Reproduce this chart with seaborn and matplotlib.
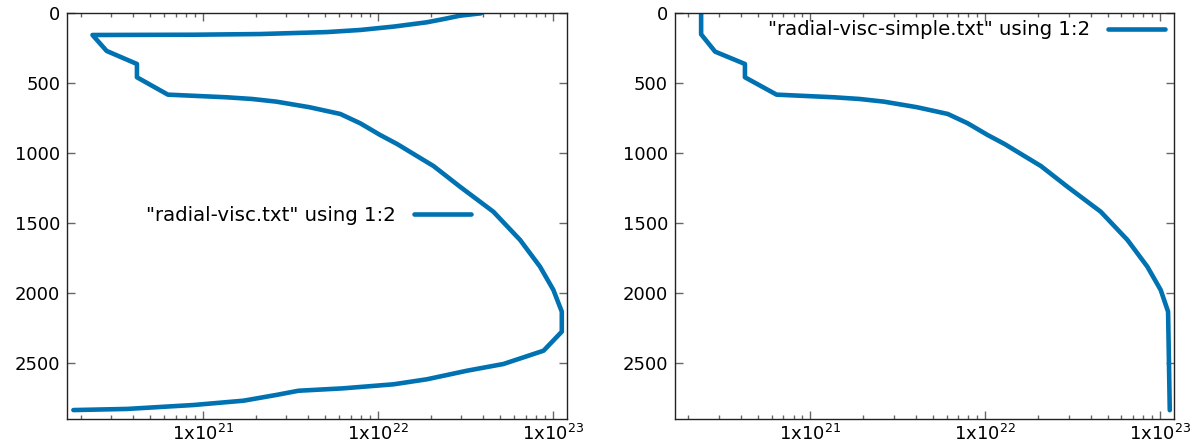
import matplotlib
matplotlib.use("Agg")
import matplotlib.pyplot as plt
import matplotlib.ticker as mticker
import seaborn as sns
import numpy as np

# full radial viscosity profile (depth in km, viscosity in Pa s)
full_depth = [0, 17, 40, 64, 95, 119, 134, 148, 153, 155,
              269, 362, 457, 581, 600, 612, 631, 671, 719, 786,
              869, 934, 1019, 1091, 1239, 1417, 1619, 1810, 1976, 2131,
              2274, 2410, 2505, 2553, 2614, 2650, 2679, 2696, 2726, 2767,
              2798, 2826, 2834]
full_visc = [3.89e22, 2.95e22, 2.4e22, 1.91e22, 1.23e22, 7.94e21, 5.13e21, 2.14e21, 8.91e20, 2.34e20,
             2.82e20, 4.2e20, 4.2e20, 6.31e20, 1.37e21, 1.91e21, 2.63e21, 4.07e21, 6.1e21, 7.94e21,
             1.03e22, 1.29e22, 1.67e22, 2.08e22, 2.95e22, 4.57e22, 6.5e22, 8.45e22, 1.007e23, 1.125e23,
             1.125e23, 8.85e22, 5.22e22, 3.23e22, 1.91e22, 1.23e22, 6.31e21, 3.52e21, 2.63e21, 1.71e21,
             8.83e20, 3.68e20, 1.82e20]

# simplified profile
simple_depth = [0, 150, 274, 362, 457, 581, 600, 612, 631, 671,
                719, 786, 869, 934, 1019, 1091, 1239, 1417, 1619, 1810,
                1976, 2131, 2835]
simple_visc = [2.37e20, 2.37e20, 2.85e20, 4.22e20, 4.22e20, 6.4e20, 1.37e21, 1.91e21, 2.63e21, 4.07e21,
               6.1e21, 7.94e21, 1.03e22, 1.29e22, 1.67e22, 2.08e22, 2.95e22, 4.57e22, 6.5e22, 8.45e22,
               1.007e23, 1.11e23, 1.135e23]

labels = ['"radial-visc.txt" using 1:2', '"radial-visc-simple.txt" using 1:2']
xticks = [1e21, 1e22, 1e23]
xtick_labels = [r"1x10$^{21}$", r"1x10$^{22}$", r"1x10$^{23}$"]
yticks = [0, 500, 1000, 1500, 2000, 2500]

sns.set_theme(style="ticks")
plt.rcParams['font.family'] = ['DejaVu Sans']
plt.rcParams['text.color'] = 'black'

color = "#0072b2"
fig = plt.figure(figsize=(12.02, 4.44), dpi=100)
ax1 = fig.add_axes([67.3 / 1202, 1 - 419.3 / 444, 499.4 / 1202, 406 / 444])
ax2 = fig.add_axes([675 / 1202, 1 - 419.3 / 444, 499 / 1202, 406 / 444])

sns.lineplot(x=full_visc, y=full_depth, sort=False, estimator=None, ax=ax1,
             color=color, linewidth=3.3, label=labels[0])
sns.lineplot(x=simple_visc, y=simple_depth, sort=False, estimator=None, ax=ax2,
             color=color, linewidth=3.3, label=labels[1])

for ax in (ax1, ax2):
    ax.set_xscale("log")
    ax.set_xlim(1.68e20, 1.2e23)
    ax.set_ylim(2900, 0)
    ax.set_xticks(xticks)
    ax.set_xticklabels(xtick_labels)
    ax.xaxis.set_minor_locator(mticker.LogLocator(base=10, subs=np.arange(2, 10)))
    ax.xaxis.set_minor_formatter(mticker.NullFormatter())
    ax.set_yticks(yticks)
    ax.tick_params(which="both", direction="in", top=True, right=True,
                   color="#666666", width=1.0, labelsize=13, labelcolor="black")
    ax.tick_params(which="major", length=6)
    ax.tick_params(which="minor", length=3)
    ax.tick_params(axis="y", pad=5)
    ax.tick_params(axis="x", pad=3)
    for s in ax.spines.values():
        s.set_color("#222222")
        s.set_linewidth(1.0)
    ax.set_xlabel("")
    ax.set_ylabel("")

ax1.legend(loc="center right", bbox_to_anchor=(0.808, 0.501), frameon=False,
           markerfirst=False, fontsize=14.2, handlelength=2.9, handletextpad=0.9,
           borderpad=0, borderaxespad=0)
ax2.legend(loc="center right", bbox_to_anchor=(0.982, 0.959), frameon=False,
           markerfirst=False, fontsize=14.2, handlelength=2.9, handletextpad=0.9,
           borderpad=0, borderaxespad=0)

plt.savefig("out.png", dpi=100)
